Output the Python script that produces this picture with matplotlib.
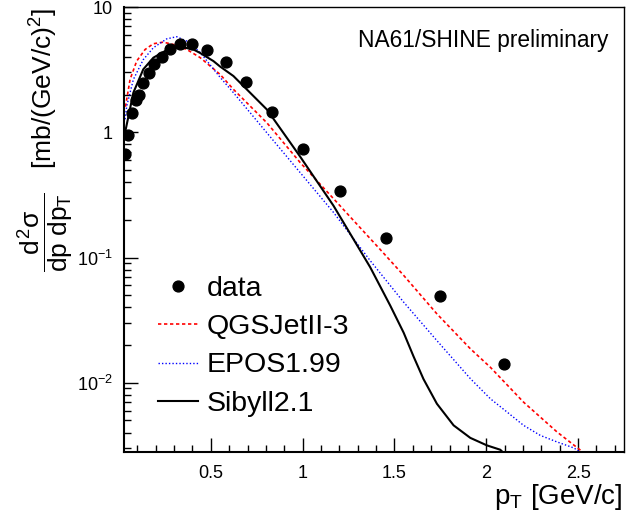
import matplotlib
matplotlib.use("Agg")
import matplotlib.pyplot as plt
from matplotlib.ticker import LogLocator, MultipleLocator, FixedLocator, FixedFormatter, NullFormatter

plt.rcParams['font.family'] = ['Liberation Sans', 'DejaVu Sans']
plt.rcParams['mathtext.fontset'] = 'custom'
plt.rcParams['mathtext.rm'] = 'Liberation Sans'
plt.rcParams['mathtext.it'] = 'Liberation Sans'
plt.rcParams['mathtext.bf'] = 'Liberation Sans:bold'

# measured spectrum
pt_data = [0.034, 0.047, 0.073, 0.091, 0.111, 0.133, 0.162, 0.191, 0.233, 0.278, 0.332,
           0.40, 0.48, 0.58, 0.694, 0.835, 1.0, 1.206, 1.452, 1.746, 2.098]
xs_data = [0.67, 0.95, 1.42, 1.81, 1.98, 2.46, 2.95, 3.48, 4.0, 4.59, 5.09,
           5.03, 4.5, 3.61, 2.52, 1.44, 0.736, 0.34, 0.143, 0.0496, 0.0141]

# model predictions
pt_qgs = [0.035, 0.06, 0.096, 0.142, 0.187, 0.241, 0.296, 0.369, 0.441, 0.55, 0.623, 0.805,
          0.986, 1.168, 1.313, 1.422, 1.55, 1.731, 1.913, 2.022, 2.203, 2.385, 2.512, 2.55]
xs_qgs = [1.6, 2.64, 3.7, 4.58, 5.09, 5.24, 5.02, 4.58, 3.95, 2.9, 2.2, 1.19,
          0.574, 0.295, 0.173, 0.116, 0.072, 0.0355, 0.0187, 0.0133, 0.0070, 0.00405, 0.0029,
          0.0026]

pt_epos = [0.033, 0.042, 0.078, 0.132, 0.187, 0.26, 0.314, 0.369, 0.441, 0.55, 0.623, 0.805,
           0.986, 1.168, 1.368, 1.55, 1.731, 1.913, 2.022, 2.113, 2.203, 2.294, 2.385, 2.476,
           2.53]
xs_epos = [1.27, 1.62, 2.64, 3.8, 4.73, 5.57, 5.79, 5.34, 4.35, 2.75, 2.07, 0.99,
           0.477, 0.229, 0.0943, 0.044, 0.0217, 0.0108, 0.00746, 0.00584, 0.00457, 0.0038,
           0.00337, 0.00302, 0.0027]

pt_sib = [0.035, 0.078, 0.132, 0.187, 0.26, 0.332, 0.405, 0.441, 0.514, 0.55, 0.623, 0.805,
          0.986, 1.168, 1.368, 1.477, 1.55, 1.604, 1.658, 1.731, 1.822, 1.913, 2.004,
          2.076, 2.1]
xs_sib = [1.03, 2.07, 3.18, 3.94, 4.53, 4.82, 4.58, 4.3, 3.7, 3.35, 2.81, 1.52,
          0.64, 0.259, 0.0835, 0.0413, 0.0251, 0.0162, 0.0107, 0.0068, 0.00457, 0.00363,
          0.00316, 0.00292, 0.0027]

fig = plt.figure(figsize=(6.38, 5.17), dpi=100)
ax = fig.add_axes([124 / 638, 1 - 452 / 517, 500 / 638, 445 / 517])

ax.plot(pt_qgs, xs_qgs, color='red', lw=1.2, linestyle=(0, (2, 1.6)), label='QGSJetII-3')
ax.plot(pt_epos, xs_epos, color='blue', lw=1.0, linestyle=(0, (1, 1.5)), label='EPOS1.99')
ax.plot(pt_sib, xs_sib, color='black', lw=1.5, label='Sibyll2.1')
ax.plot(pt_data, xs_data, 'o', color='black', ms=7.8, label='data', zorder=5)

ax.set_yscale('log')
ax.set_xlim(0.027, 2.75)
ax.set_ylim(0.0028, 10)

ax.xaxis.set_major_locator(FixedLocator([0.5, 1.0, 1.5, 2.0, 2.5]))
ax.xaxis.set_major_formatter(FixedFormatter(['0.5', '1', '1.5', '2', '2.5']))
ax.xaxis.set_minor_locator(MultipleLocator(0.1))
ax.yaxis.set_major_locator(FixedLocator([0.01, 0.1, 1, 10]))
ax.yaxis.set_major_formatter(FixedFormatter([r'$10^{-2}$', r'$10^{-1}$', '1', '10']))
ax.yaxis.set_minor_locator(LogLocator(base=10, subs=range(2, 10)))
ax.yaxis.set_minor_formatter(NullFormatter())

ax.tick_params(which='both', direction='in', top=False, right=False, width=1.0, labelsize=13)
ax.tick_params(which='major', length=10)
ax.tick_params(which='minor', length=5)
ax.tick_params(axis='x', pad=9)
ax.tick_params(axis='y', pad=8)
for side in ['left', 'bottom']:
    ax.spines[side].set_linewidth(1.5)
for side in ['top', 'right']:
    ax.spines[side].set_linewidth(1.0)

handles, labels = ax.get_legend_handles_labels()
order = [3, 0, 1, 2]
ax.legend([handles[i] for i in order], [labels[i] for i in order],
          loc='upper left', bbox_to_anchor=(158 / 638, 1 - 276 / 517),
          bbox_transform=fig.transFigure, frameon=False, fontsize=20.5,
          handlelength=1.4, handletextpad=0.31, labelspacing=0.43,
          borderpad=0, borderaxespad=0, numpoints=1)

fig.text(608 / 638, 1 - 46.7 / 517, 'NA61/SHINE preliminary', fontsize=16.4,
         ha='right', va='baseline')
fig.text(623 / 638, 1 - 504 / 517, r'p$_{T}$ [GeV/c]', fontsize=20, ha='right', va='baseline')
fig.text(45 / 638, 1 - 8 / 517, r'$\dfrac{d^{2}\sigma}{dp\ dp_{T}}$   [mb/(GeV/c)$^{2}$]',
         fontsize=19, rotation=90, ha='center', va='top')

fig.savefig('out.png', dpi=100)
